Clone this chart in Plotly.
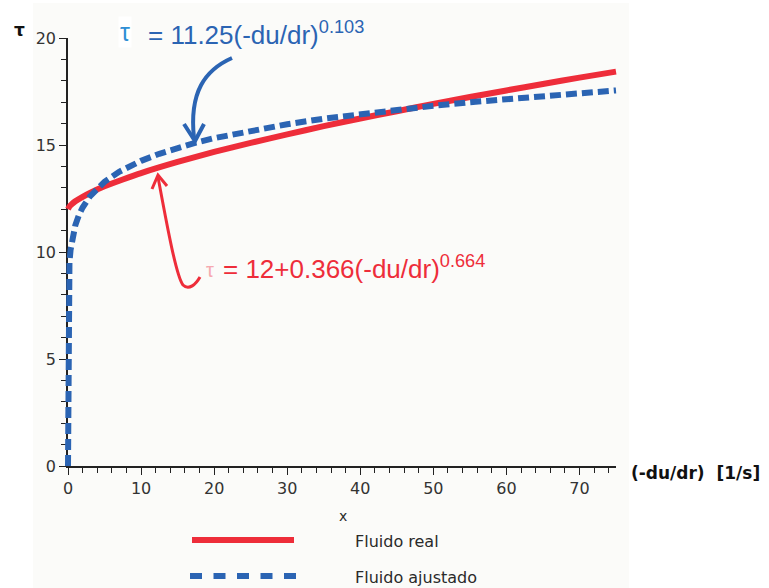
import plotly.graph_objects as go

# ---------------- data ----------------
x_real = [0, 0.25, 0.5, 1, 2, 3, 5, 7.5, 10, 15, 20, 25, 30, 35, 40, 45, 50, 55, 60, 65, 70, 75]
tau_real = [12.0, 12.15, 12.23, 12.37, 12.58, 12.76, 13.07, 13.39, 13.69, 14.21, 14.68, 15.10,
            15.50, 15.88, 16.24, 16.58, 16.92, 17.24, 17.55, 17.85, 18.15, 18.43]

x_fit = [0, 1e-9, 1e-6, 1e-4, 1e-3, 0.01, 0.05, 0.1, 0.2, 0.35, 0.5, 0.75, 1, 1.5, 2, 3, 4, 5, 7,
         10, 12.5, 15, 17.5, 20, 25, 30, 35, 40, 45, 50, 55, 60, 65, 70, 75]
tau_fit = [0.0, 1.33, 2.71, 4.36, 5.52, 7.00, 8.26, 8.87, 9.53, 10.10, 10.47, 10.92, 11.25, 11.73,
           12.08, 12.60, 12.98, 13.28, 13.75, 14.26, 14.59, 14.87, 15.11, 15.32, 15.67, 15.97,
           16.23, 16.45, 16.65, 16.83, 17.00, 17.15, 17.29, 17.43, 17.55]

series_names = ["Fluido real", "Fluido ajustado"]
x_ticks = [0, 10, 20, 30, 40, 50, 60, 70]
y_ticks = [0, 5, 10, 15, 20]

# ---------------- layout geometry ----------------
W, H = 769, 588
ML, MR, MT, MB = 60, 129, 30, 114
PW, PH = W - ML - MR, H - MT - MB
X0PX, X75PX, Y0PX, Y20PX = 68, 616, 466, 38
SX = (X75PX - X0PX) / 75.0
SY = (Y0PX - Y20PX) / 20.0

def dx(px):
    return (px - X0PX) / SX

def dy(py):
    return (Y0PX - py) / SY

def fx(px):
    return (px - ML) / PW

def fy(py):
    return (H - MB - py) / PH

RED = "#ee2d3a"
BLUE = "#2b64b3"
TXT = "#2a2a2a"

fig = go.Figure()
fig.add_trace(go.Scatter(x=x_fit[:1], y=tau_fit[:1], mode="markers", marker=dict(opacity=0),
                         xaxis="x", yaxis="y", showlegend=False, hoverinfo="skip"))
fig.add_trace(go.Scatter(x=x_real, y=tau_real, mode="lines", name=series_names[0],
                         line=dict(color=RED, width=6, shape="spline", smoothing=0.6),
                         xaxis="x2", yaxis="y2", showlegend=False, hoverinfo="skip"))
fig.add_trace(go.Scatter(x=x_fit, y=tau_fit, mode="lines", name=series_names[1],
                         line=dict(color=BLUE, width=6, dash="11px,5px"),
                         xaxis="x2", yaxis="y2", showlegend=False, hoverinfo="skip"))

tickfont = dict(family="DejaVu Sans", size=16, color="#333333")
fig.update_layout(
    width=W, height=H,
    margin=dict(l=ML, r=MR, t=MT, b=MB),
    paper_bgcolor="white", plot_bgcolor="rgba(0,0,0,0)",
    showlegend=False,
    xaxis=dict(domain=[fx(X0PX), fx(X75PX)], range=[0, 75], anchor="y",
               tickmode="array", tickvals=x_ticks, ticks="outside", ticklen=7, tickwidth=1.4,
               tickcolor="#222", showline=True, linecolor="#222", linewidth=1.6,
               showgrid=False, zeroline=False, tickfont=tickfont,
               minor=dict(dtick=2, tick0=0, ticks="outside", ticklen=5, tickwidth=1.1, tickcolor="#222", showgrid=False)),
    yaxis=dict(domain=[fy(Y0PX), fy(Y20PX)], range=[0, 20], anchor="x",
               tickmode="array", tickvals=y_ticks, ticks="outside", ticklen=7, tickwidth=1.4,
               tickcolor="#222", showline=True, linecolor="#222", linewidth=1.6,
               showgrid=False, zeroline=False, tickfont=tickfont,
               minor=dict(dtick=1, tick0=0, ticks="outside", ticklen=5, tickwidth=1.1, tickcolor="#222", showgrid=False)),
    xaxis2=dict(domain=[0, 1], range=[dx(ML), dx(ML + PW)], anchor="y2", visible=False),
    yaxis2=dict(domain=[0, 1], range=[dy(H - MB), dy(MT)], anchor="x2", visible=False),
)

shapes = []
shapes.append(dict(type="rect", xref="paper", yref="paper", x0=fx(33), x1=fx(629), y0=fy(588), y1=fy(3),
                   fillcolor="#fbfbf9", line=dict(width=0), layer="below"))

def path(cmds):
    out = []
    for c in cmds:
        if isinstance(c, str):
            out.append(c)
        else:
            out.append(f"{dx(c[0]):.4f},{dy(c[1]):.4f}")
    return " ".join(out)

shapes.append(dict(type="path", xref="x2", yref="y2",
                   path=path(["M", (232, 58), "C", (205, 70), (189, 92), (194, 138)]),
                   line=dict(color=BLUE, width=4)))
shapes.append(dict(type="path", xref="x2", yref="y2",
                   path=path(["M", (184, 124), "L", (195, 141), "L", (204, 124)]),
                   line=dict(color=BLUE, width=4)))
shapes.append(dict(type="path", xref="x2", yref="y2",
                   path=path(["M", (200, 277), "C", (196, 284), (189, 291), (183, 285),
                              "C", (176, 276), (166, 220), (158, 177)]),
                   line=dict(color=RED, width=3)))
shapes.append(dict(type="path", xref="x2", yref="y2",
                   path=path(["M", (152, 189), "L", (158, 175), "L", (167, 186)]),
                   line=dict(color=RED, width=3)))
shapes.append(dict(type="line", xref="paper", yref="paper", x0=fx(192), x1=fx(294), y0=fy(540), y1=fy(540),
                   line=dict(color=RED, width=6)))
shapes.append(dict(type="line", xref="paper", yref="paper", x0=fx(190), x1=fx(296), y0=fy(576), y1=fy(576),
                   line=dict(color=BLUE, width=6, dash="12px,11.5px")))
fig.update_layout(shapes=shapes)

def ann(px, py, text, size, color=TXT, family="DejaVu Sans", xanchor="center", yanchor="middle", bg=None):
    d = dict(xref="paper", yref="paper", x=fx(px), y=fy(py), text=text, showarrow=False,
             xanchor=xanchor, yanchor=yanchor, font=dict(family=family, size=size, color=color))
    if bg:
        d["bgcolor"] = bg
    fig.add_annotation(**d)

ann(19, 30, "<b>τ</b>", 17, color="#111")
ann(125, 32, "τ", 25, color="#2f8fd5", family="Liberation Sans", bg="white")
ann(146, 33, "= 11.25(-du/dr)<sup>0.103</sup>", 26, color=BLUE, family="Liberation Sans", xanchor="left")
ann(210, 270, "τ", 20, color="#f6a9b0", family="Liberation Sans")
ann(221, 267, "= 12+0.366(-du/dr)<sup>0.664</sup>", 26, color=RED, family="Liberation Sans", xanchor="left")
ann(629, 473, "<b>(-du/dr)\u00a0\u00a0[1/s]</b>", 17, color="#111", xanchor="left")
ann(343, 516, "x", 14)
ann(353, 541, series_names[0], 16, xanchor="left")
ann(353, 577, series_names[1], 16, xanchor="left")

fig.write_html("out.html", post_script="document.body.style.margin='0';",
               config={"displayModeBar": False})
